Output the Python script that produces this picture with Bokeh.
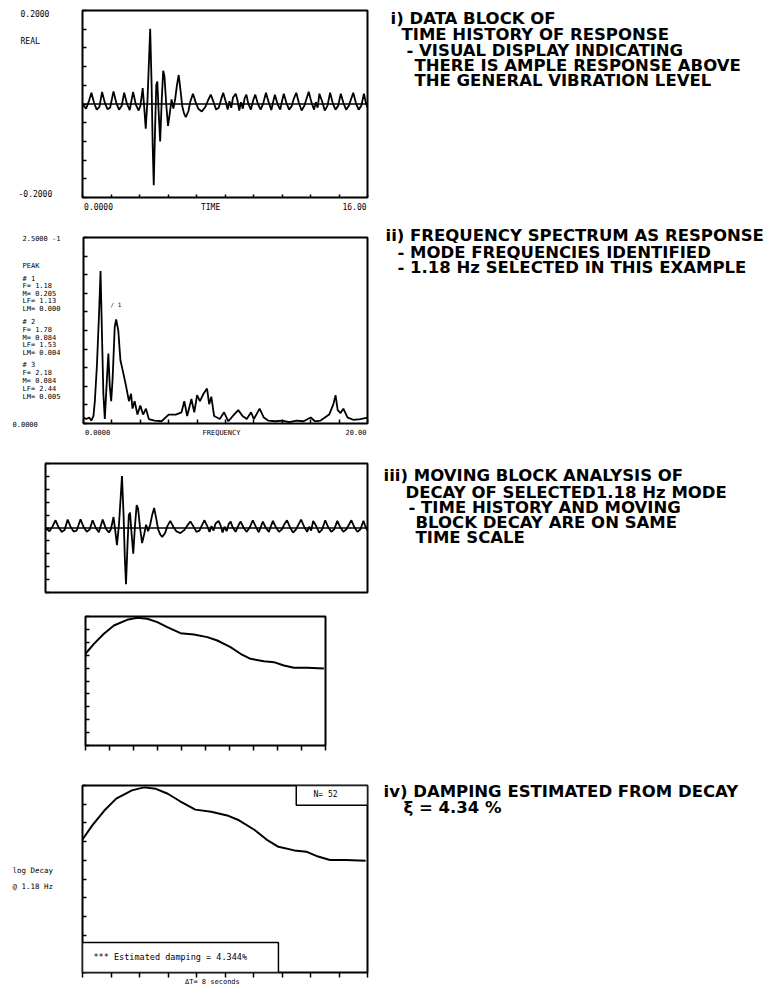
import numpy as np
from bokeh.plotting import figure
from bokeh.models import Range1d, LinearAxis, FixedTicker, Label, Span, BoxAnnotation
from bokeh.layouts import column, row
from bokeh.core.properties import value
from bokeh.embed import file_html
from bokeh.resources import INLINE

# ---------------- data ----------------
# time history of response (seconds, real part)
time_s = [0.0, 0.2, 0.35, 0.5, 0.65, 0.8, 0.95, 1.1, 1.25, 1.4, 1.55, 1.74, 1.9, 2.05, 2.2, 2.34,
          2.5, 2.65, 2.84, 3.0, 3.15, 3.25, 3.38, 3.47, 3.55, 3.65, 3.72, 3.8, 3.88, 3.94, 4.0,
          4.07, 4.14, 4.2, 4.28, 4.36, 4.45, 4.53, 4.6, 4.7, 4.8, 4.9, 5.0, 5.1, 5.2, 5.3, 5.4,
          5.5, 5.6, 5.7, 5.8, 5.95, 6.05, 6.2, 6.35, 6.5, 6.7, 6.9, 7.05, 7.2, 7.35, 7.5, 7.65,
          7.8, 7.9, 8.05, 8.15, 8.25, 8.35, 8.45, 8.6, 8.7, 8.8, 8.9, 9.0, 9.1, 9.2, 9.3, 9.45,
          9.6, 9.7, 9.85, 10.0, 10.15, 10.3, 10.45, 10.6, 10.7, 10.8, 10.95, 11.1, 11.2, 11.3,
          11.45, 11.6, 11.75, 11.85, 12.0, 12.15, 12.3, 12.45, 12.55, 12.7, 12.85, 13.0, 13.1,
          13.2, 13.3, 13.45, 13.6, 13.75, 13.9, 14.05, 14.2, 14.35, 14.5, 14.65, 14.8, 14.95,
          15.2, 15.35, 15.5, 15.65, 15.8, 15.9, 16.0]
response = [0.0, -0.010, 0.005, 0.024, 0.002, -0.012, -0.006, 0.026, 0.003, -0.011, -0.008, 0.027,
            0.002, -0.012, -0.004, 0.024, 0.000, -0.013, 0.026, -0.002, -0.014, -0.004, 0.034,
            -0.010, -0.053, 0.010, 0.080, 0.161, 0.040, -0.090, -0.174, -0.060, 0.040, 0.048,
            -0.020, -0.080, 0.010, 0.071, 0.060, 0.000, -0.047, -0.020, 0.010, -0.010, 0.010,
            0.040, 0.062, 0.030, -0.005, -0.020, -0.028, -0.015, 0.005, 0.022, 0.004, -0.010,
            -0.016, -0.006, 0.008, 0.020, 0.005, -0.012, -0.008, 0.012, 0.024, 0.004, -0.012,
            0.006, -0.008, 0.014, 0.022, 0.008, -0.014, 0.004, -0.010, 0.012, 0.020, 0.002,
            -0.012, 0.010, 0.020, 0.000, -0.012, 0.002, 0.024, 0.004, -0.013, 0.004, 0.020,
            0.000, -0.012, 0.006, 0.022, 0.002, -0.012, -0.004, 0.010, 0.024, 0.002, -0.014,
            -0.004, 0.008, 0.026, 0.004, -0.012, 0.004, -0.008, 0.022, 0.006, -0.014, -0.004,
            0.024, 0.002, -0.012, -0.004, 0.022, 0.002, -0.012, -0.004, 0.024, 0.002, -0.012,
            -0.004, 0.022, 0.004, -0.008]

# frequency spectrum of the response
freq_hz = [0.0, 0.2, 0.4, 0.55, 0.7, 0.8, 0.95, 1.1, 1.2, 1.3, 1.4, 1.5, 1.65, 1.75, 1.85, 1.95,
           2.05, 2.2, 2.3, 2.45, 2.6, 2.8, 3.0, 3.2, 3.35, 3.45, 3.6, 3.8, 4.0, 4.2, 4.4, 4.6,
           5.0, 5.5, 6.0, 6.5, 6.9, 7.1, 7.3, 7.6, 7.8, 8.0, 8.2, 8.45, 8.7, 8.85, 9.0, 9.2, 9.6,
           9.9, 10.2, 10.6, 10.9, 11.2, 11.5, 11.8, 12.0, 12.4, 12.7, 13.0, 13.5, 14.0, 14.5,
           15.0, 15.5, 16.0, 16.3, 16.7, 17.0, 17.3, 17.6, 17.75, 17.9, 18.1, 18.3, 18.6, 19.0,
           19.5, 20.0]
spectrum = [0.008, 0.006, 0.008, 0.004, 0.010, 0.030, 0.080, 0.150, 0.205, 0.120, 0.040, 0.006,
            0.060, 0.094, 0.050, 0.030, 0.060, 0.130, 0.140, 0.125, 0.085, 0.068, 0.050, 0.030,
            0.040, 0.020, 0.030, 0.012, 0.024, 0.012, 0.020, 0.006, 0.004, 0.003, 0.012, 0.012,
            0.015, 0.030, 0.010, 0.033, 0.015, 0.038, 0.030, 0.040, 0.047, 0.026, 0.036, 0.010,
            0.006, 0.015, 0.003, 0.012, 0.018, 0.010, 0.006, 0.015, 0.006, 0.020, 0.008, 0.004,
            0.003, 0.004, 0.002, 0.004, 0.003, 0.008, 0.003, 0.004, 0.008, 0.012, 0.026, 0.038,
            0.018, 0.014, 0.020, 0.008, 0.005, 0.006, 0.008]

# moving block decay (log amplitude, normalised to panel height)
decay_t = [2.00, 2.42, 2.92, 3.42, 4.08, 4.59, 5.09, 5.59, 6.09, 6.75, 7.42, 8.09, 8.59, 9.25,
           9.75, 10.25, 10.92, 11.42, 11.92, 12.42, 13.09, 13.92]
decay_log = [0.711, 0.788, 0.866, 0.930, 0.974, 0.990, 0.982, 0.956, 0.917, 0.871, 0.860, 0.840,
             0.814, 0.762, 0.711, 0.672, 0.653, 0.646, 0.620, 0.602, 0.602, 0.597]

# texts
time_side = ["0.2000", "REAL", "-0.2000"]
time_axis_pos = [0.9, 7.19, 15.27]
time_axis_txt = ["0.0000", "TIME", "16.00"]
freq_side = ["2.5000 -1", "0.0000"]
freq_axis_pos = [0.99, 9.72, 19.19]
freq_axis_txt = ["0.0000", "FREQUENCY", "20.00"]
peak_table = ["PEAK",
              "#  1", "F=  1.18", "M=  0.205", "LF= 1.13", "LM= 0.000",
              "#  2", "F=  1.78", "M=  0.084", "LF= 1.53", "LM= 0.004",
              "#  3", "F=  2.18", "M=  0.084", "LF= 2.44", "LM= 0.005"]
text_i = ["i) DATA BLOCK OF", "TIME HISTORY OF RESPONSE", "- VISUAL DISPLAY INDICATING",
          "THERE IS AMPLE RESPONSE ABOVE", "THE GENERAL VIBRATION LEVEL"]
text_ii = ["ii) FREQUENCY SPECTRUM AS RESPONSE", "- MODE FREQUENCIES IDENTIFIED",
           "- 1.18 Hz SELECTED IN THIS EXAMPLE"]
text_iii = ["iii) MOVING BLOCK ANALYSIS OF", "DECAY OF SELECTED1.18 Hz MODE",
            "- TIME HISTORY AND MOVING", "BLOCK DECAY ARE ON SAME", "TIME SCALE"]
text_iv = ["iv) DAMPING ESTIMATED FROM DECAY", "\u03be = 4.34 %"]
decay_side = ["log Decay", "@ 1.18 Hz"]
decay_box_txt = ["N= 52", "*** Estimated damping =  4.344%"]
decay_axis_pos = [7.47]
decay_axis_txt = ["\u0394T= 8 seconds"]

# ---------------- layout helpers ----------------
PAGE_W = 769
MONO = "DejaVu Sans Mono"
SANS = "DejaVu Sans"
BIG = "16.5px"
BL, BR = 12, 5
GEOM = {}


def base(width, height, **kw):
    p = figure(width=width, height=height, toolbar_location=None, output_backend="svg",
               x_axis_type=None, y_axis_type=None, frame_align=False, **kw)
    p.background_fill_color = "white"
    p.border_fill_color = "white"
    return p


def textfig(x0, y0, w, h):
    """blank canvas whose ranges are page pixels (y down)."""
    p = base(w, h, x_range=Range1d(x0, x0 + w), y_range=Range1d(y0 + h, y0),
             min_border_left=0, min_border_right=0, min_border_top=0, min_border_bottom=0)
    p.outline_line_color = None
    return p


def put(p, xs, ys, texts, size, font=MONO, bold=False):
    p.text(x=xs, y=ys, text=texts, text_font=value(font), text_font_size=value(size),
           text_font_style="bold" if bold else "normal", text_color="black",
           text_align="left", text_baseline="middle")


def panel(fl, fr, ft, fb, top, h, xr, yr):
    p = base(BL + (fr - fl) + BR, h, x_range=Range1d(*xr), y_range=Range1d(*yr),
             min_border_left=BL, min_border_right=BR,
             min_border_top=ft - top, min_border_bottom=top + h - fb)
    p.outline_line_color = "black"
    p.outline_line_width = 2
    GEOM[p.id] = (fl, fb)
    return p


def ticks(p, side, minor, tin, tout, major=(), labels=(), size="8px", standoff=5):
    ax = LinearAxis(ticker=FixedTicker(ticks=list(major), minor_ticks=list(minor)),
                    axis_line_color=None, major_tick_line_color=None,
                    major_tick_in=0, major_tick_out=0,
                    minor_tick_in=tin, minor_tick_out=tout,
                    minor_tick_line_color="black", minor_tick_line_width=1.5,
                    major_label_standoff=standoff,
                    major_label_text_font=MONO, major_label_text_font_size=size,
                    major_label_text_color="black",
                    major_label_overrides={float(m): t for m, t in zip(major, labels)})
    p.add_layout(ax, side)


def lab(p, x, y, text, size="8px"):
    fl, fb = GEOM[p.id]
    p.add_layout(Label(x=x - fl, y=fb - y, x_units="screen", y_units="screen", text=text,
                       text_font=MONO, text_font_size=size, text_color="black",
                       text_align="left", text_baseline="middle"))


def slice_row(top, h, fl, fr, ft, fb, xr, yr):
    left = textfig(0, top, fl - BL, h)
    p = panel(fl, fr, ft, fb, top, h, xr, yr)
    right = textfig(fr + BR, top, PAGE_W - fr - BR, h)
    return left, p, right


# ---------------- panel i : time history ----------------
lA, pA, rA = slice_row(0, 218, 82, 367, 10, 197, (0, 16), (-0.2, 0.2))
pA.line(time_s, response, line_color="black", line_width=1.8)
pA.add_layout(Span(location=0, dimension="width", line_color="black", line_width=1.5))
ticks(pA, "left", np.linspace(-0.2, 0.2, 11), 4, 0)
ticks(pA, "below", np.linspace(0, 16, 11), 3, 0, time_axis_pos, time_axis_txt, "8px", 5)
put(lA, [20, 20, 18], [13, 41, 193], time_side, "8px")
put(rA, [390, 401, 406, 414, 414], [18, 34, 50, 65, 80], text_i, BIG, SANS, True)

# ---------------- panel ii : spectrum ----------------
lB, pB, rB = slice_row(218, 224, 83, 367, 237, 423, (0, 20), (0, 0.25))
pB.line(freq_hz, spectrum, line_color="black", line_width=1.8)
ticks(pB, "left", np.linspace(0, 0.25, 11), 4, 0)
ticks(pB, "below", np.linspace(0, 20, 11), 4, 0, freq_axis_pos, freq_axis_txt, "7px", 5)
put(lB, [22, 12], [238, 423], freq_side, "7px")
peak_y = [265, 278, 285, 293, 300, 308, 321, 329, 337, 344, 352, 364, 372, 380, 388, 396]
put(lB, [22] * len(peak_table), peak_y, peak_table, "7px")
lab(pB, 110, 304, "/ 1", "6px")
put(rB, [385, 397, 397], [235, 252, 267], text_ii, BIG, SANS, True)

# ---------------- panel iii : time history (wide) ----------------
lC, pC, rC = slice_row(442, 158, 45, 367, 463, 592, (0, 16), (-0.2, 0.2))
pC.line(time_s, response, line_color="black", line_width=1.8)
pC.add_layout(Span(location=0, dimension="width", line_color="black", line_width=1.5))
ticks(pC, "left", np.linspace(-0.2, 0.2, 11), 4, 0)
put(rC, [383, 405, 408, 415, 415], [475, 492, 507, 522, 537], text_iii, BIG, SANS, True)

# ---------------- panel iii : moving block decay ----------------
lD, pD, rD = slice_row(600, 162, 85, 325, 616, 745, (2, 14), (0, 1))
pD.line(decay_t, decay_log, line_color="black", line_width=2)
ticks(pD, "left", np.linspace(0, 1, 11), 4, 0)
ticks(pD, "below", np.linspace(2, 14, 11), 0, 5)

# ---------------- panel iv : damping estimate ----------------
lE, pE, rE = slice_row(762, 226, 82, 367, 785, 973, (2, 14), (0, 1))
pE.line(decay_t, decay_log, line_color="black", line_width=2)
ticks(pE, "left", np.linspace(0, 1, 11), 4, 0)
ticks(pE, "below", np.linspace(2, 14, 11), 0, 5, decay_axis_pos, decay_axis_txt, "7px", 0)
pE.add_layout(BoxAnnotation(left=11.0, right=14.0, bottom=0.894, top=1.0,
                            fill_color="white", fill_alpha=1, line_color="black",
                            line_alpha=1, line_width=1.5))
pE.add_layout(BoxAnnotation(left=2.0, right=10.25, bottom=0.0, top=0.16,
                            fill_color="white", fill_alpha=1, line_color="black",
                            line_alpha=1, line_width=1.5))
lab(pE, 313, 795, decay_box_txt[0], "8px")
lab(pE, 93, 957, decay_box_txt[1], "8.5px")
put(lE, [12, 12], [870, 886], decay_side, "7.5px")
put(rE, [383, 403], [791, 807], text_iv, BIG, SANS, True)

page = column(row(lA, pA, rA, spacing=0), row(lB, pB, rB, spacing=0),
              row(lC, pC, rC, spacing=0), row(lD, pD, rD, spacing=0),
              row(lE, pE, rE, spacing=0), spacing=0)
open("out.html", "w").write(file_html(page, INLINE))
